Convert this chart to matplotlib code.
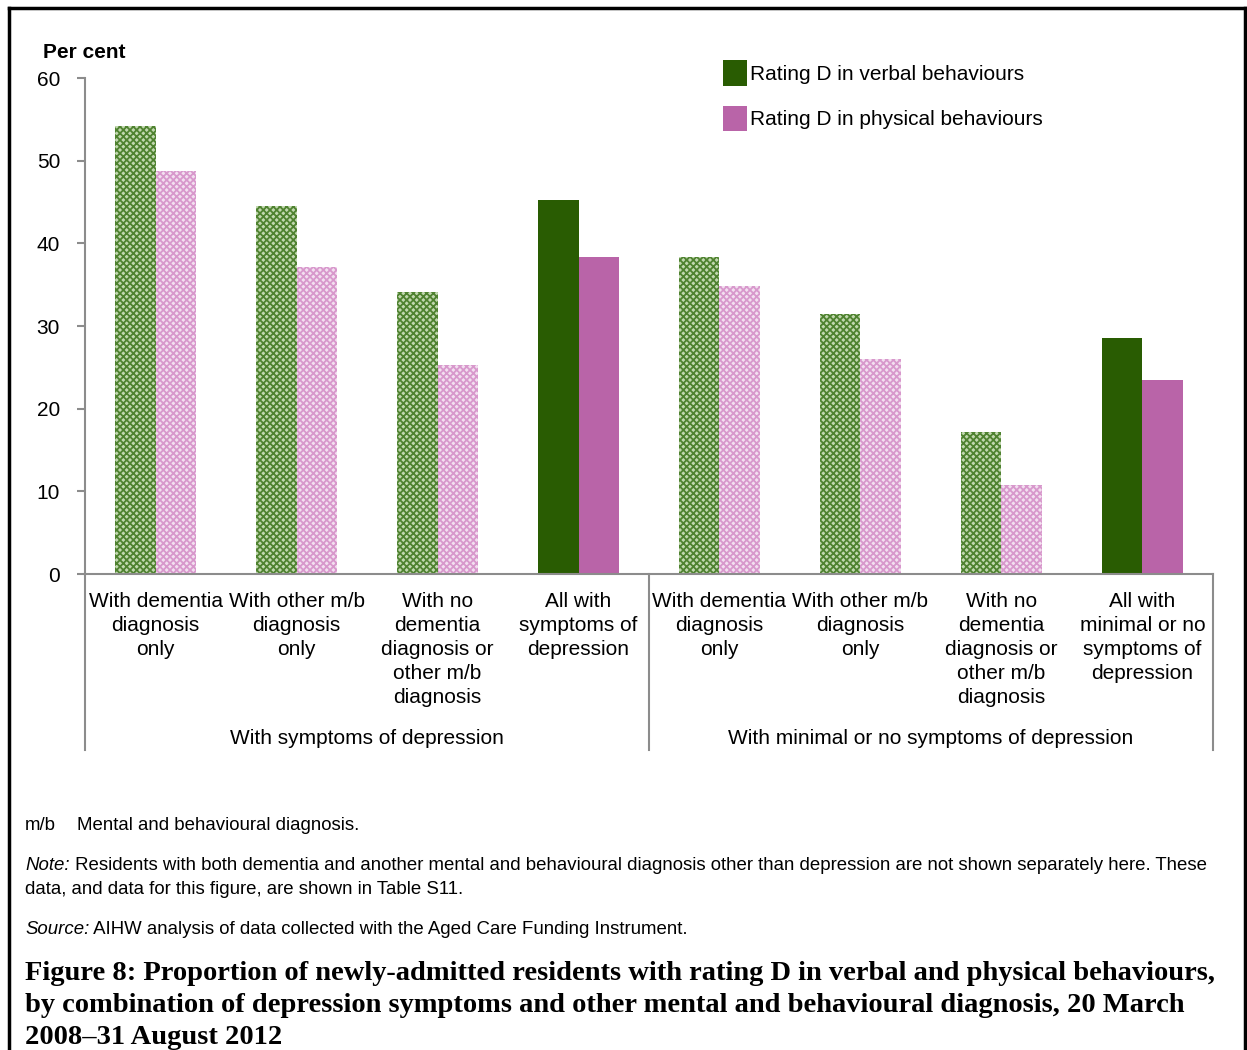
import matplotlib
matplotlib.use("Agg")
from matplotlib import pyplot as plt
from matplotlib.patches import Patch
import numpy as np

plt.rcParams['font.family'] = ['Liberation Sans', 'DejaVu Sans']
plt.rcParams['hatch.linewidth'] = 1.3

categories = [
    "With dementia\ndiagnosis\nonly",
    "With other m/b\ndiagnosis\nonly",
    "With no\ndementia\ndiagnosis or\nother m/b\ndiagnosis",
    "All with\nsymptoms of\ndepression",
    "With dementia\ndiagnosis\nonly",
    "With other m/b\ndiagnosis\nonly",
    "With no\ndementia\ndiagnosis or\nother m/b\ndiagnosis",
    "All with\nminimal or no\nsymptoms of\ndepression",
]
groups = ["With symptoms of depression", "With minimal or no symptoms of depression"]
verbal = [54.2, 44.5, 34.1, 45.3, 38.3, 31.4, 17.2, 28.5]
physical = [48.7, 37.1, 25.3, 38.3, 34.9, 26.0, 10.8, 23.5]
is_total = [False, False, False, True, False, False, False, True]

GREEN = "#295c02"
PINK = "#b964a8"
GRAY = "#8c8c8c"
FS = 15

fig = plt.figure(figsize=(12.47, 10.5), dpi=100)
ax = fig.add_axes([0.0682, 0.4533, 0.9045, 0.4724])

x = np.arange(len(categories))
w = 0.29
for i in range(len(categories)):
    if is_total[i]:
        ax.bar(x[i] - w / 2, verbal[i], w, color=GREEN, linewidth=0)
        ax.bar(x[i] + w / 2, physical[i], w, color=PINK, linewidth=0)
    else:
        ax.bar(x[i] - w / 2, verbal[i], w, facecolor="#c2d8b0", edgecolor="#4f8230",
               hatch="xxxxx", linewidth=0)
        ax.bar(x[i] + w / 2, physical[i], w, facecolor="#f3dff0", edgecolor="#d898cc",
               hatch="xxxxx", linewidth=0)

ax.set_xlim(-0.5, 7.5)
ax.set_ylim(0, 60)
ax.set_yticks(range(0, 61, 10))
ax.tick_params(axis="y", direction="out", length=6, width=1.5, color=GRAY,
               labelsize=FS, pad=12)
ax.set_xticks([])
for s in ["top", "right"]:
    ax.spines[s].set_visible(False)
for s in ["left", "bottom"]:
    ax.spines[s].set_color(GRAY)
    ax.spines[s].set_linewidth(1.5)

# category labels
for i, c in enumerate(categories):
    ax.annotate(c, xy=(x[i], 0), xycoords="data", xytext=(0, -13),
                textcoords="offset points", ha="center", va="top",
                fontsize=FS, linespacing=1.335)

# group separators and group labels
for bx in [-0.5, 3.5, 7.5]:
    ax.plot([bx, bx], [0, -21.3], color=GRAY, lw=1.5, clip_on=False)
for j, g in enumerate(groups):
    ax.text(1.5 + 4 * j, -19.85, g, ha="center", va="center", fontsize=FS)

fig.text(43 / 1247, 1 - 52 / 1050, "Per cent", fontsize=FS, fontweight="bold",
         ha="left", va="center")

handles = [Patch(facecolor=GREEN), Patch(facecolor=PINK)]
fig.legend(handles, ["Rating D in verbal behaviours", "Rating D in physical behaviours"],
           loc="upper left", bbox_to_anchor=(715 / 1247, 1 - 52 / 1050), frameon=False,
           fontsize=FS, handlelength=1.15, handleheight=1.5, handletextpad=0.15,
           labelspacing=0.95, borderaxespad=0)

# notes
fs = 13.4
renderer = fig.canvas.get_renderer()


def mixed_line(y, italic, rest):
    t = fig.text(25 / 1247, 1 - y / 1050, italic, fontsize=fs, style="italic", va="center")
    bb = t.get_window_extent(renderer)
    fig.text(bb.x1 / fig.bbox.width, 1 - y / 1050, " " + rest, fontsize=fs, va="center")


fig.text(25 / 1247, 1 - 825 / 1050, "m/b", fontsize=fs, va="center")
fig.text(77 / 1247, 1 - 825 / 1050, "Mental and behavioural diagnosis.", fontsize=fs, va="center")
mixed_line(865, "Note:", "Residents with both dementia and another mental and behavioural "
           "diagnosis other than depression are not shown separately here. These")
fig.text(25 / 1247, 1 - 889 / 1050, "data, and data for this figure, are shown in Table S11.",
         fontsize=fs, va="center")
mixed_line(929, "Source:", "AIHW analysis of data collected with the Aged Care Funding Instrument.")

title = ("Figure 8: Proportion of newly-admitted residents with rating D in verbal and physical behaviours,\n"
         "by combination of depression symptoms and other mental and behavioural diagnosis, 20 March\n"
         "2008\u201331 August 2012")
fig.text(25 / 1247, 1 - 961 / 1050, title, fontsize=20.5, fontweight="bold",
         family="Liberation Serif", va="top", linespacing=1.36)

# frame
fr = dict(color="black", lw=2.5, transform=fig.transFigure, clip_on=False)
fig.add_artist(plt.Line2D([9 / 1247, 9 / 1247], [0, 1 - 8 / 1050], **fr))
fig.add_artist(plt.Line2D([9 / 1247, 1245 / 1247], [1 - 8 / 1050, 1 - 8 / 1050], **fr))
fig.add_artist(plt.Line2D([1245 / 1247, 1245 / 1247], [0, 1 - 8 / 1050], **fr))

fig.savefig("out.png", dpi=100)
